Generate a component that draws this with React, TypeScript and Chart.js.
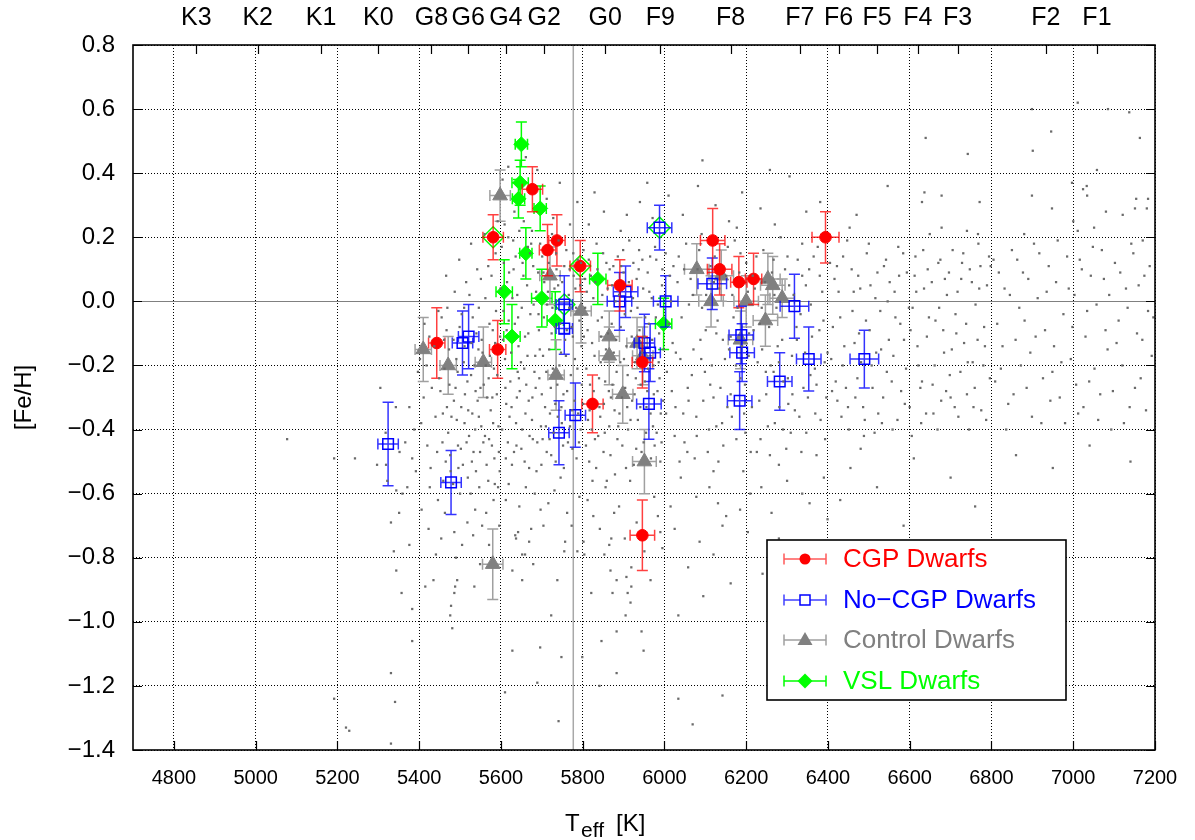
import React, { useEffect, useRef } from 'react';
import { Chart, registerables } from 'chart.js';

Chart.register(...registerables);

const FONT = "'Liberation Sans', Arial, Helvetica, sans-serif";

const xTickValues = [4800, 5000, 5200, 5400, 5600, 5800, 6000, 6200, 6400, 6600, 6800, 7000, 7200];
const yTickValues = [0.8, 0.6, 0.4, 0.2, 0.0, -0.2, -0.4, -0.6, -0.8, -1.0, -1.2, -1.4];
const spectralLabels = ['K3', 'K2', 'K1', 'K0', 'G8', 'G6', 'G4', 'G2', 'G0', 'F9', 'F8', 'F7', 'F6', 'F5', 'F4', 'F3', 'F2', 'F1'];
const spectralTeff = [4855, 5005, 5160, 5300, 5430, 5520, 5612, 5706, 5855, 5990, 6162, 6331, 6426, 6520, 6620, 6717, 6933, 7058];
const solarTeff = 5777;

// CGP dwarfs
const cgpTeff = [5581, 5677, 5714, 5737, 5794, 5891, 5443, 5592, 5824, 5946, 5946, 6118, 6135, 6182, 6218, 6394];
const cgpFeH = [0.20, 0.35, 0.16, 0.19, 0.11, 0.05, -0.13, -0.15, -0.32, -0.19, -0.73, 0.19, 0.10, 0.06, 0.07, 0.20];
const cgpTeffErr = [25, 25, 20, 20, 25, 30, 20, 20, 26, 25, 30, 30, 30, 20, 20, 33];
const cgpFeHErr = [0.07, 0.07, 0.08, 0.08, 0.08, 0.08, 0.11, 0.09, 0.09, 0.08, 0.11, 0.10, 0.08, 0.08, 0.08, 0.08];

// No-CGP dwarfs
const ncTeff = [5988, 5755, 5755, 5890, 5905, 6003, 5506, 5521, 5951, 5965, 5962, 5782, 5742, 5324, 5478, 6117, 6318, 6188, 6190, 6184, 6282, 6353, 6489];
const ncFeH = [0.23, -0.01, -0.085, 0.0, 0.03, 0.0, -0.13, -0.11, -0.13, -0.16, -0.32, -0.355, -0.41, -0.445, -0.565, 0.055, -0.015, -0.105, -0.16, -0.31, -0.25, -0.18, -0.18];
const ncTeffErr = [30, 20, 20, 30, 30, 30, 25, 25, 25, 25, 30, 25, 25, 25, 25, 35, 35, 30, 30, 30, 30, 30, 35];
const ncFeHErr = [0.07, 0.09, 0.08, 0.09, 0.08, 0.08, 0.10, 0.10, 0.09, 0.09, 0.11, 0.10, 0.10, 0.13, 0.10, 0.08, 0.10, 0.09, 0.09, 0.09, 0.09, 0.10, 0.09];

// Control dwarfs
const ctTeff = [5598, 5720, 5410, 5471, 5557, 5796, 5735, 5580, 5865, 5865, 5933, 5947, 5898, 5951, 6079, 6139, 6114, 6200, 6253, 6265, 6288, 6247, 6186];
const ctFeH = [0.33, 0.08, -0.15, -0.20, -0.19, -0.03, -0.23, -0.82, -0.11, -0.17, -0.13, -0.17, -0.29, -0.50, 0.10, 0.08, 0.00, 0.00, 0.07, 0.05, 0.01, -0.06, -0.12];
const ctTeffErr = [25, 25, 20, 20, 20, 25, 20, 25, 25, 25, 25, 25, 25, 29, 30, 30, 30, 30, 30, 30, 30, 30, 30];
const ctFeHErr = [0.08, 0.09, 0.10, 0.09, 0.11, 0.10, 0.11, 0.11, 0.08, 0.09, 0.08, 0.09, 0.09, 0.10, 0.08, 0.08, 0.08, 0.08, 0.08, 0.09, 0.06, 0.08, 0.09];

// VSL dwarfs
const vslTeff = [5650, 5647, 5643, 5696, 5661, 5837, 5608, 5700, 5733, 5627, 5998];
const vslFeH = [0.49, 0.37, 0.32, 0.29, 0.15, 0.07, 0.03, 0.01, -0.06, -0.11, -0.07];
const vslTeffErr = [15, 20, 15, 15, 15, 20, 20, 25, 20, 20, 20];
const vslFeHErr = [0.07, 0.07, 0.06, 0.07, 0.08, 0.08, 0.10, 0.09, 0.09, 0.10, 0.08];

// VSL stars also in the CGP / No-CGP samples (open diamonds)
const vslOpenTeff = [5581, 5794, 5988, 5755];
const vslOpenFeH = [0.20, 0.11, 0.23, -0.01];

// Field stars (background cloud) [Teff, [Fe/H]]
const fieldStars: number[][] = [
  [5077, -0.43], [5192, -0.49], [5192, -1.24], [5229, -1.34], [5221, -1.33], [5243, -0.49], [5297, -0.51], [5319, -0.51],
  [5305, -0.27], [5318, -0.41], [5322, -0.56], [5331, -0.69], [5344, -0.59], [5351, -0.66], [5359, -0.60], [5344, -0.84],
  [5376, -0.33], [5343, -0.33], [5388, -0.40], [5383, -0.49], [5383, -0.96], [5383, -1.06], [5376, -0.76], [5397, -0.22],
  [5402, -0.18], [5411, -0.30], [5415, -0.89], [5420, -0.45], [5428, -0.52], [5435, -0.87], [5431, -0.27], [5440, -0.36],
  [5446, -0.62], [5392, -0.53], [5366, -0.44], [5338, -0.78], [5357, -0.91], [5331, -1.38], [5341, -1.25], [5331, -1.16],
  [5413, -0.07], [5425, -0.11], [5447, -0.03],
  [5454, -0.74], [5486, -0.72], [5490, -0.80], [5493, -0.87], [5488, -0.89], [5486, -0.91], [5478, -0.95], [5476, -0.98],
  [5481, -1.02], [5535, -0.89], [5532, -0.73], [5505, -0.76], [5554, -0.70], [5537, -0.65], [5564, -0.66], [5582, -0.62],
  [5455, -0.05], [5462, -0.21], [5468, -0.33], [5471, -0.41], [5476, -0.48], [5459, -0.56], [5484, -0.12], [5489, -0.27],
  [5492, -0.37], [5496, -0.52], [5500, -0.60], [5504, -0.04], [5509, -0.19], [5512, -0.29], [5516, -0.44], [5519, -0.55],
  [5523, 0.02], [5527, -0.23], [5530, -0.35], [5533, -0.47], [5537, -0.40], [5540, -0.10], [5543, -0.31], [5547, -0.58],
  [5551, 0.07], [5555, -0.16], [5558, -0.26], [5561, -0.42], [5565, -0.51], [5569, 0.11], [5572, -0.07], [5575, -0.34],
  [5578, -0.45], [5583, -0.21], [5587, 0.15], [5590, -0.29], [5594, -0.39], [5597, -0.53], [5599, 0.04], [5466, 0.08],
  [5498, 0.13], [5527, 0.18], [5546, -0.02], [5560, 0.21], [5580, -0.09], [5592, 0.25], [5473, -0.15], [5511, -0.38],
  [5528, -0.13], [5549, -0.47], [5570, -0.24], [5585, -0.57],
  [5452, -0.28], [5457, -0.44], [5461, -0.12], [5465, -0.50], [5469, -0.02], [5474, -0.26], [5479, -0.36], [5483, -0.57],
  [5487, 0.03], [5491, -0.18], [5495, -0.45], [5499, -0.08], [5503, -0.33], [5507, -0.51], [5511, -0.14], [5515, 0.06],
  [5518, -0.25], [5522, -0.42], [5526, -0.60], [5531, -0.05], [5535, -0.20], [5539, -0.53], [5542, 0.10], [5546, -0.36],
  [5550, -0.27], [5553, -0.12], [5557, -0.44], [5562, 0.01], [5566, -0.30], [5569, -0.56], [5573, -0.17], [5577, 0.08],
  [5581, -0.38], [5584, -0.49], [5588, -0.03], [5591, -0.23], [5595, -0.47], [5598, -0.11],
  [5405, -0.38], [5418, -0.20], [5426, -0.58], [5437, -0.14], [5444, -0.47], [5449, -0.24], [5458, -0.35], [5467, -0.09],
  [5477, -0.53], [5485, -0.31], [5494, -0.22], [5502, -0.46], [5510, -0.02], [5520, -0.34], [5529, -0.50], [5538, -0.28],
  [5545, -0.15], [5552, -0.39], [5563, -0.20], [5571, -0.43], [5579, -0.30], [5586, -0.13], [5593, -0.58],
  [5604, 0.38], [5618, 0.42], [5633, 0.28], [5661, 0.45], [5689, 0.41], [5712, 0.32], [5728, 0.26], [5744, 0.37],
  [5769, 0.24], [5787, 0.31], [5609, 0.24], [5676, 0.22],
  [5602, 0.17], [5606, -0.03], [5610, -0.18], [5613, -0.32], [5617, -0.44], [5620, 0.09], [5623, -0.25], [5627, -0.51],
  [5630, 0.19], [5634, -0.07], [5637, -0.38], [5640, 0.02], [5643, -0.14], [5646, -0.28], [5650, -0.46], [5653, 0.12],
  [5657, -0.21], [5660, -0.35], [5664, 0.05], [5667, -0.10], [5670, -0.42], [5674, 0.18], [5677, -0.30], [5680, -0.01],
  [5684, -0.17], [5687, -0.53], [5691, 0.09], [5694, -0.24], [5698, -0.39], [5701, 0.14], [5705, -0.05], [5708, -0.33],
  [5712, -0.47], [5715, 0.03], [5718, -0.15], [5722, -0.27], [5725, 0.21], [5729, -0.41], [5732, -0.08], [5736, 0.10],
  [5739, -0.36], [5743, -0.20], [5746, -0.55], [5750, 0.06], [5753, -0.29], [5757, -0.12], [5760, 0.16], [5764, -0.44],
  [5767, -0.02], [5771, -0.23], [5774, -0.34], [5778, 0.08], [5781, -0.18], [5785, -0.49], [5788, 0.13], [5792, -0.06],
  [5795, -0.40], [5798, -0.26], [5615, 0.06], [5641, -0.22], [5668, -0.31], [5695, -0.15], [5723, -0.48], [5749, -0.38],
  [5776, -0.11], [5656, 0.25], [5702, -0.43], [5735, 0.15],
  [5603, -0.40], [5607, 0.12], [5611, -0.27], [5614, -0.09], [5618, 0.20], [5621, -0.36], [5625, -0.16], [5628, 0.01],
  [5632, -0.47], [5636, 0.14], [5639, -0.30], [5642, -0.05], [5645, 0.22], [5649, -0.19], [5652, -0.40], [5655, 0.08],
  [5659, -0.11], [5662, -0.26], [5666, 0.17], [5669, -0.52], [5672, -0.04], [5676, -0.37], [5679, 0.11], [5682, -0.22],
  [5686, 0.03], [5689, -0.44], [5693, -0.09], [5696, 0.18], [5700, -0.29], [5703, -0.17], [5706, 0.06], [5710, -0.39],
  [5713, -0.01], [5717, 0.12], [5720, -0.35], [5724, -0.10], [5727, -0.21], [5731, 0.04], [5734, -0.50], [5738, -0.26],
  [5741, 0.19], [5745, -0.07], [5748, -0.33], [5752, -0.45], [5755, 0.11], [5759, -0.17], [5762, -0.28], [5766, 0.02],
  [5769, -0.39], [5773, -0.08], [5777, 0.15], [5780, -0.31], [5784, -0.02], [5787, -0.21], [5791, -0.44], [5794, 0.05],
  [5797, -0.14],
  [5605, -0.12], [5612, -0.49], [5619, -0.06], [5626, -0.33], [5631, 0.10], [5638, -0.45], [5644, -0.24], [5651, -0.02],
  [5658, -0.50], [5665, -0.17], [5671, 0.15], [5678, -0.43], [5685, -0.27], [5692, -0.04], [5699, -0.51], [5704, 0.09],
  [5711, -0.22], [5719, -0.43], [5726, -0.02], [5733, -0.32], [5740, 0.05], [5747, -0.16], [5754, -0.52], [5761, -0.09],
  [5768, 0.10], [5775, -0.46], [5782, 0.04], [5789, -0.35], [5796, 0.12],
  [5628, -1.09], [5696, -1.08], [5748, -1.11], [5689, -1.19], [5723, -0.98], [5652, -0.87], [5628, -0.84], [5738, -0.87],
  [5652, -0.79], [5659, -0.79], [5679, -0.82], [5637, -0.74], [5669, -0.75], [5635, -0.73], [5642, -0.72], [5674, -0.71],
  [5704, -0.70], [5755, -0.78], [5787, -0.78], [5757, -0.75], [5612, -0.62], [5645, -0.64], [5683, -0.60], [5716, -0.63],
  [5762, -0.66], [5792, -0.61], [5741, -1.31], [5610, -1.22],
  [5352, -0.47], [5371, -0.58], [5406, -0.65], [5423, -0.71], [5441, -0.79], [5463, -0.66], [5518, -0.69], [5549, -0.82],
  [5571, -0.76], [5596, -0.70], [5619, -0.57], [5661, -0.58], [5697, -0.65], [5731, -0.59], [5773, -0.70], [5812, -0.62],
  [5842, -0.71], [5877, -0.66], [5903, -0.74], [5951, -0.78], [5984, -0.67], [6025, -0.71], [6078, -0.61], [6131, -0.63],
  [6185, -0.65], [6237, -0.58], [6280, -0.74], [6337, -0.60], [6390, -0.55], [6120, -0.53], [6280, -0.51],
  [5799, -1.11], [5841, -1.20], [5846, -1.06], [5883, -1.03], [5883, -1.16], [5944, -1.03], [5949, -1.09], [5905, -0.98],
  [5917, -0.94], [5919, -0.89], [5910, -0.91], [5873, -0.91], [5821, -0.91], [5883, -0.87], [5907, -0.86], [5966, -0.87],
  [5868, -0.84], [5919, -0.83], [5804, -0.79], [5853, -0.79], [5865, -0.76], [5802, -0.75], [5870, -0.74], [5990, -0.72],
  [5995, -0.77], [5826, -0.67], [5889, -0.64], [5932, -0.69], [5975, -0.61], [5856, -0.58],
  [5802, 0.16], [5806, -0.02], [5809, -0.21], [5813, -0.37], [5816, -0.50], [5820, 0.08], [5823, -0.13], [5827, -0.28],
  [5830, -0.43], [5834, 0.18], [5837, -0.06], [5841, -0.33], [5844, -0.19], [5848, 0.02], [5851, -0.47], [5855, -0.25],
  [5858, 0.12], [5862, -0.10], [5865, -0.39], [5869, -0.30], [5872, 0.05], [5876, -0.16], [5879, -0.54], [5883, -0.22],
  [5886, 0.14], [5890, -0.35], [5893, -0.08], [5897, -0.45], [5900, 0.09], [5904, -0.27], [5907, -0.14], [5911, -0.40],
  [5914, 0.19], [5918, -0.03], [5921, -0.31], [5925, -0.51], [5928, -0.19], [5932, 0.07], [5935, -0.37], [5939, -0.09],
  [5942, -0.26], [5946, 0.13], [5949, -0.44], [5953, -0.05], [5956, -0.33], [5960, -0.21], [5963, 0.03], [5967, -0.49],
  [5970, -0.12], [5974, -0.29], [5977, 0.17], [5981, -0.41], [5984, -0.01], [5988, -0.24], [5991, -0.35], [5995, 0.10],
  [5998, -0.15], [5815, 0.24], [5852, 0.28], [5893, 0.22], [5940, 0.31], [5971, 0.26], [5829, 0.34], [5908, 0.27],
  [5958, 0.37],
  [5801, -0.32], [5805, 0.07], [5808, -0.45], [5812, -0.09], [5815, 0.13], [5818, -0.26], [5822, -0.40], [5826, 0.01],
  [5829, -0.17], [5833, -0.52], [5836, 0.10], [5840, -0.24], [5843, -0.36], [5847, -0.05], [5850, 0.15], [5854, -0.41],
  [5857, -0.15], [5861, 0.04], [5864, -0.28], [5868, -0.48], [5871, -0.07], [5875, 0.11], [5878, -0.34], [5882, -0.12],
  [5885, -0.43], [5889, 0.02], [5892, -0.19], [5896, -0.30], [5899, 0.16], [5903, -0.04], [5906, -0.52], [5910, -0.23],
  [5913, 0.06], [5917, -0.37], [5920, -0.11], [5924, 0.12], [5927, -0.29], [5931, -0.46], [5934, -0.02], [5938, 0.16],
  [5941, -0.33], [5945, -0.16], [5948, 0.04], [5952, -0.25], [5955, -0.41], [5959, 0.09], [5962, -0.07], [5966, -0.35],
  [5969, 0.01], [5973, -0.20], [5976, -0.45], [5980, 0.13], [5983, -0.28], [5987, -0.10], [5990, -0.50], [5994, 0.05],
  [5997, -0.31],
  [5803, -0.11], [5810, 0.03], [5817, -0.34], [5824, -0.56], [5831, 0.06], [5838, -0.42], [5845, -0.11], [5852, -0.32],
  [5859, -0.56], [5866, 0.10], [5873, -0.26], [5880, 0.00], [5887, -0.39], [5894, 0.11], [5901, -0.18], [5909, -0.33],
  [5916, -0.56], [5923, 0.01], [5930, -0.24], [5937, 0.10], [5944, -0.47], [5951, -0.11], [5958, -0.28], [5965, 0.14],
  [5972, -0.39], [5979, -0.05], [5986, -0.19], [5993, -0.44],
  [6010, 0.33], [6045, 0.27], [6082, 0.36], [6125, 0.30], [6158, 0.25], [6190, 0.34], [6235, 0.29], [6270, 0.24],
  [6306, 0.39], [6347, 0.28], [6381, 0.31], [6093, 0.44], [6258, 0.41], [6177, 0.23],
  [6003, 0.15], [6011, -0.07], [6018, -0.28], [6025, -0.42], [6032, 0.06], [6039, -0.18], [6046, -0.35], [6053, 0.18],
  [6060, -0.01], [6067, -0.23], [6074, -0.49], [6081, 0.10], [6088, -0.12], [6095, -0.31], [6102, 0.02], [6109, -0.40],
  [6116, -0.20], [6123, 0.14], [6130, -0.06], [6137, -0.27], [6144, -0.45], [6151, 0.08], [6158, -0.15], [6165, -0.36],
  [6172, 0.19], [6179, -0.02], [6186, -0.24], [6193, -0.53], [6200, 0.12], [6207, -0.10], [6214, -0.33], [6221, 0.04],
  [6228, -0.19], [6235, -0.43], [6242, 0.16], [6249, -0.29], [6256, -0.08], [6263, 0.09], [6270, -0.38], [6277, -0.14],
  [6284, 0.20], [6291, -0.25], [6298, -0.46], [6305, 0.05], [6312, -0.17], [6319, -0.34], [6326, 0.13], [6333, -0.04],
  [6340, -0.27], [6347, -0.41], [6354, 0.10], [6361, -0.11], [6368, -0.21], [6375, 0.17], [6382, -0.37], [6389, -0.06],
  [6396, -0.30], [6022, 0.11], [6056, -0.47], [6091, 0.21], [6127, -0.39], [6162, -0.11], [6198, -0.41], [6233, -0.07],
  [6267, -0.22], [6303, -0.32], [6337, 0.18], [6372, -0.48], [6040, -0.55], [6110, -0.58], [6210, -0.60], [6300, -0.56],
  [6006, -0.22], [6013, 0.08], [6020, -0.13], [6027, -0.33], [6035, 0.14], [6042, -0.05], [6049, -0.44], [6057, -0.27],
  [6064, 0.07], [6071, -0.15], [6078, -0.36], [6085, 0.16], [6092, -0.02], [6099, -0.22], [6106, -0.47], [6113, 0.11],
  [6120, -0.30], [6127, -0.10], [6134, 0.04], [6141, -0.38], [6148, -0.18], [6155, 0.17], [6162, -0.29], [6169, -0.05],
  [6176, -0.43], [6183, 0.09], [6190, -0.14], [6197, -0.26], [6204, 0.03], [6211, -0.47], [6218, -0.09], [6225, 0.14],
  [6232, -0.31], [6239, -0.15], [6246, 0.06], [6253, -0.39], [6260, -0.20], [6267, 0.13], [6274, -0.02], [6281, -0.33],
  [6288, -0.12], [6295, 0.10], [6302, -0.24], [6309, -0.41], [6316, 0.02], [6323, -0.08], [6330, -0.36], [6337, 0.08],
  [6344, -0.16], [6351, -0.30], [6358, -0.01], [6365, 0.14], [6372, -0.26], [6379, -0.09], [6386, 0.03], [6393, -0.43],
  [6399, -0.16],
  [6004, -0.35], [6016, 0.00], [6028, -0.16], [6037, -0.50], [6048, 0.10], [6059, -0.31], [6070, 0.02], [6079, -0.42],
  [6090, -0.18], [6101, -0.09], [6112, -0.26], [6121, 0.06], [6132, -0.50], [6143, -0.12], [6154, -0.33], [6166, 0.02],
  [6175, -0.20], [6186, 0.15], [6195, -0.35], [6206, -0.17], [6216, 0.08], [6226, -0.47], [6238, -0.02], [6248, -0.22],
  [6258, -0.48], [6269, 0.02], [6280, -0.19], [6290, -0.40], [6301, 0.14], [6313, -0.29], [6324, -0.12], [6335, -0.47],
  [6346, 0.05], [6357, -0.23], [6369, -0.35], [6380, 0.08], [6392, -0.19],
  [6034, -0.98], [6069, -1.32], [6142, -1.23], [6034, -1.24], [6086, -0.75], [6162, -0.88], [6151, -0.67], [6142, -0.70],
  [6262, -0.66], [6399, -0.68], [6015, -0.64], [6058, -0.83], [6120, -0.79], [6204, -0.72], [6240, -0.85], [6318, -0.77],
  [6355, -0.63], [6095, -0.92],
  [6405, 0.12], [6412, -0.08], [6419, -0.25], [6426, 0.03], [6433, -0.36], [6440, -0.14], [6447, 0.19], [6453, 0.23],
  [6460, -0.03], [6467, -0.30], [6474, 0.08], [6481, -0.19], [6488, -0.42], [6495, 0.15], [6502, -0.09], [6509, -0.27],
  [6516, 0.01], [6523, -0.35], [6530, -0.15], [6537, 0.11], [6544, -0.22], [6551, 0.06], [6558, -0.40], [6565, -0.05],
  [6572, 0.17], [6579, -0.28], [6586, -0.12], [6593, 0.09], [6600, -0.33], [6607, -0.02], [6614, 0.14], [6621, -0.20],
  [6628, -0.38], [6635, 0.04], [6642, -0.11], [6649, 0.21], [6656, -0.26], [6663, -0.06], [6670, 0.12], [6677, -0.31],
  [6684, -0.16], [6691, 0.02], [6698, -0.23], [6705, 0.16], [6712, -0.04], [6719, -0.36], [6726, 0.07], [6733, -0.13],
  [6740, -0.29], [6747, 0.10], [6754, -0.19], [6761, -0.01], [6768, 0.18], [6775, -0.34], [6782, -0.08], [6789, 0.05],
  [6796, -0.24], [6470, 0.27], [6546, 0.36], [6639, 0.51], [6636, 0.34], [6678, 0.33], [6630, 0.31], [6742, 0.46],
  [6771, 0.31], [6678, 0.23], [6740, 0.22], [6767, 0.21], [6455, -0.52], [6520, -0.58], [6610, -0.49], [6700, -0.55],
  [6430, -0.62], [6585, -0.70], [6760, -0.64], [6480, -0.46],
  [6408, -0.18], [6416, 0.07], [6423, -0.31], [6430, -0.05], [6437, 0.14], [6444, -0.27], [6451, -0.40], [6458, 0.10],
  [6465, -0.13], [6472, -0.24], [6479, 0.04], [6486, -0.33], [6493, -0.06], [6500, 0.18], [6507, -0.20], [6514, -0.41],
  [6521, 0.09], [6528, -0.03], [6535, -0.30], [6542, 0.13], [6549, -0.12], [6556, -0.25], [6563, 0.03], [6570, -0.37],
  [6577, -0.07], [6584, 0.15], [6591, -0.21], [6598, -0.02], [6605, -0.42], [6612, 0.08], [6619, -0.14], [6626, -0.27],
  [6633, 0.16], [6640, -0.35], [6647, -0.05], [6654, 0.06], [6661, -0.20], [6668, -0.40], [6675, 0.13], [6682, -0.09],
  [6689, -0.28], [6696, 0.09], [6703, -0.15], [6710, -0.33], [6717, 0.03], [6724, -0.22], [6731, 0.15], [6738, -0.07],
  [6745, -0.40], [6752, 0.06], [6759, -0.27], [6766, -0.12], [6773, 0.11], [6780, -0.20], [6787, -0.37], [6794, 0.14],
  [6410, -0.28], [6422, 0.11], [6436, -0.20], [6449, -0.33], [6463, 0.03], [6476, -0.10], [6490, -0.37], [6504, 0.05],
  [6518, -0.16], [6532, -0.38], [6546, 0.00], [6560, -0.17], [6574, 0.08], [6588, -0.32], [6602, -0.09], [6616, 0.03],
  [6630, -0.25], [6644, 0.10], [6658, -0.35], [6672, -0.02], [6686, 0.07], [6700, -0.30], [6714, -0.10], [6728, 0.12],
  [6742, -0.19], [6756, -0.33], [6770, 0.04], [6784, -0.14], [6798, 0.11],
  [6899, 0.60], [7011, 0.62], [7085, 0.60], [7137, 0.59], [6946, 0.53], [7163, 0.51], [6901, 0.47], [7058, 0.41],
  [6899, 0.33], [6948, 0.29], [6997, 0.37], [7033, 0.36], [7024, 0.35], [7034, 0.33], [7154, 0.32], [7183, 0.32],
  [7151, 0.29], [7180, 0.29], [7080, 0.28], [7121, 0.27], [7051, 0.23], [7011, 0.22],
  [6805, 0.13], [6814, -0.07], [6823, -0.21], [6832, 0.04], [6841, -0.32], [6850, 0.16], [6859, -0.12], [6868, -0.02],
  [6877, 0.09], [6886, -0.27], [6895, -0.16], [6904, 0.18], [6913, 0.01], [6922, -0.38], [6931, -0.09], [6940, 0.11],
  [6949, -0.22], [6958, 0.06], [6967, -0.30], [6976, -0.04], [6985, 0.14], [6994, -0.18], [7003, 0.02], [7012, -0.35],
  [7021, 0.10], [7030, -0.11], [7039, -0.25], [7048, 0.17], [7057, -0.01], [7066, -0.29], [7075, 0.07], [7084, -0.15],
  [7093, -0.40], [7102, 0.12], [7111, -0.06], [7120, -0.20], [7129, 0.04], [7138, -0.33], [7147, 0.15], [7156, -0.10],
  [7165, -0.24], [7174, 0.08], [7183, -0.03], [7192, -0.17], [6860, -0.48], [6950, -0.52], [7040, -0.45], [7140, -0.50],
  [6880, 0.21], [7000, 0.25], [7170, 0.19],
  [6809, -0.25], [6818, 0.09], [6827, -0.14], [6836, -0.40], [6845, 0.02], [6854, -0.29], [6863, 0.13], [6872, -0.20],
  [6881, -0.06], [6890, 0.07], [6899, -0.36], [6908, -0.11], [6917, 0.15], [6926, -0.24], [6935, 0.03], [6944, -0.31],
  [6953, -0.14], [6962, 0.19], [6971, -0.19], [6980, -0.38], [6989, 0.04], [6998, -0.08], [7007, -0.26], [7016, 0.13],
  [7025, -0.33], [7034, -0.03], [7043, 0.08], [7052, -0.21], [7061, -0.37], [7070, 0.16], [7079, -0.09], [7088, 0.02],
  [7097, -0.28], [7106, -0.13], [7115, 0.09], [7124, -0.38], [7133, -0.02], [7142, 0.18], [7151, -0.27], [7160, 0.05],
  [7169, -0.12], [7178, -0.34], [7187, 0.11], [7196, -0.05],
];

const legendEntries = [
  { label: 'CGP Dwarfs', color: '#ff0000', bar: 'rgba(255,0,0,0.65)', marker: 'circle' },
  { label: 'No\u2212CGP Dwarfs', color: '#0000ff', bar: 'rgba(0,0,255,0.75)', marker: 'square' },
  { label: 'Control Dwarfs', color: '#808080', bar: '#a0a0a0', marker: 'triangle' },
  { label: 'VSL Dwarfs', color: '#00ff00', bar: '#00ff00', marker: 'diamond' },
];

function zip(t: number[], f: number[], te?: number[], fe?: number[]) {
  return t.map((x, i) => ({ x, y: f[i], xe: te ? te[i] : 0, ye: fe ? fe[i] : 0 }));
}

function fmtY(v: number) {
  if (Math.abs(v) < 1e-9) return '0.0';
  return (v < 0 ? '\u2212' : '') + Math.abs(v).toFixed(1);
}

const refLinesPlugin = {
  id: 'refLines',
  beforeDatasetsDraw(chart: any) {
    const { ctx, chartArea: a, scales } = chart;
    const x = scales.x, y = scales.y;
    ctx.save();
    ctx.beginPath();
    ctx.rect(a.left, a.top, a.right - a.left, a.bottom - a.top);
    ctx.clip();
    const y0 = Math.round(y.getPixelForValue(0)) + 0.5;
    ctx.strokeStyle = '#808080';
    ctx.lineWidth = 1;
    ctx.beginPath();
    ctx.moveTo(a.left, y0);
    ctx.lineTo(a.right, y0);
    ctx.stroke();
    const xs = x.getPixelForValue(solarTeff);
    ctx.strokeStyle = '#a8a8a8';
    ctx.lineWidth = 1.5;
    ctx.beginPath();
    ctx.moveTo(xs, a.top);
    ctx.lineTo(xs, a.bottom);
    ctx.stroke();
    ctx.restore();
  },
};

const errorBarPlugin = {
  id: 'errorBars',
  beforeDatasetDraw(chart: any, args: any) {
    const ds = chart.data.datasets[args.index];
    if (!ds.errorColor) return;
    const { ctx, scales } = chart;
    const xs = scales.x, ys = scales.y;
    const c = 5.5;
    ctx.save();
    ctx.strokeStyle = ds.errorColor;
    ctx.lineWidth = 1.5;
    for (const p of ds.data) {
      const px = xs.getPixelForValue(p.x);
      const py = ys.getPixelForValue(p.y);
      const x0 = xs.getPixelForValue(p.x - p.xe);
      const x1 = xs.getPixelForValue(p.x + p.xe);
      const y0 = ys.getPixelForValue(p.y - p.ye);
      const y1 = ys.getPixelForValue(p.y + p.ye);
      ctx.beginPath();
      ctx.moveTo(x0, py); ctx.lineTo(x1, py);
      ctx.moveTo(px, y0); ctx.lineTo(px, y1);
      ctx.moveTo(x0, py - c); ctx.lineTo(x0, py + c);
      ctx.moveTo(x1, py - c); ctx.lineTo(x1, py + c);
      ctx.moveTo(px - c, y0); ctx.lineTo(px + c, y0);
      ctx.moveTo(px - c, y1); ctx.lineTo(px + c, y1);
      ctx.stroke();
    }
    ctx.restore();
  },
};

function drawMarker(ctx: CanvasRenderingContext2D, kind: string, x: number, y: number, color: string) {
  ctx.save();
  ctx.fillStyle = color;
  ctx.strokeStyle = color;
  ctx.lineWidth = 1.5;
  ctx.beginPath();
  if (kind === 'circle') {
    ctx.arc(x, y, 5.5, 0, Math.PI * 2);
    ctx.fill();
  } else if (kind === 'square') {
    ctx.fillStyle = '#fff';
    ctx.rect(x - 5, y - 5, 10, 10);
    ctx.fill();
    ctx.stroke();
  } else if (kind === 'triangle') {
    ctx.moveTo(x, y - 8);
    ctx.lineTo(x + 7.5, y + 5);
    ctx.lineTo(x - 7.5, y + 5);
    ctx.closePath();
    ctx.fill();
  } else {
    ctx.moveTo(x, y - 7.5);
    ctx.lineTo(x + 7.5, y);
    ctx.lineTo(x, y + 7.5);
    ctx.lineTo(x - 7.5, y);
    ctx.closePath();
    ctx.fill();
  }
  ctx.restore();
}

const framePlugin = {
  id: 'frameTicksLegend',
  afterDraw(chart: any) {
    const { ctx, chartArea: a, scales } = chart;
    const x = scales.x, y = scales.y;
    const tl = 9;
    ctx.save();
    // inward tick marks
    ctx.strokeStyle = '#000';
    ctx.lineWidth = 1.2;
    ctx.beginPath();
    for (const v of yTickValues) {
      const py = Math.round(y.getPixelForValue(v)) + 0.5;
      ctx.moveTo(a.left, py); ctx.lineTo(a.left + tl, py);
      ctx.moveTo(a.right, py); ctx.lineTo(a.right - tl, py);
    }
    for (const v of xTickValues) {
      const px = Math.round(x.getPixelForValue(v)) + 0.5;
      ctx.moveTo(px, a.bottom); ctx.lineTo(px, a.bottom - tl);
    }
    for (const v of spectralTeff) {
      const px = Math.round(x.getPixelForValue(v)) + 0.5;
      ctx.moveTo(px, a.top); ctx.lineTo(px, a.top + tl);
    }
    ctx.stroke();
    // frame
    ctx.lineWidth = 1.6;
    ctx.strokeRect(a.left, a.top, a.right - a.left, a.bottom - a.top);

    // axis titles
    ctx.fillStyle = '#000';
    ctx.textBaseline = 'alphabetic';
    ctx.textAlign = 'left';
    const ty = 831;
    ctx.font = `24px ${FONT}`;
    ctx.fillText('T', 565, ty);
    ctx.font = `21px ${FONT}`;
    ctx.fillText('eff', 581, ty + 6);
    ctx.font = `24px ${FONT}`;
    ctx.fillText('[K]', 616, ty);

    ctx.save();
    ctx.translate(31, (a.top + a.bottom) / 2);
    ctx.rotate(-Math.PI / 2);
    ctx.textAlign = 'center';
    ctx.font = `24px ${FONT}`;
    ctx.fillText('[Fe/H]', 0, 0);
    ctx.restore();

    // legend
    const lx = 767, ly = 540, lw = 299, lh = 160;
    ctx.fillStyle = '#fff';
    ctx.fillRect(lx, ly, lw, lh);
    ctx.strokeStyle = '#000';
    ctx.lineWidth = 1.6;
    ctx.strokeRect(lx, ly, lw, lh);
    const rows = [559, 600, 640, 681];
    legendEntries.forEach((e, i) => {
      const ry = rows[i];
      ctx.strokeStyle = e.bar;
      ctx.lineWidth = 1.5;
      ctx.beginPath();
      ctx.moveTo(784, ry); ctx.lineTo(826, ry);
      ctx.moveTo(784, ry - 5.5); ctx.lineTo(784, ry + 5.5);
      ctx.moveTo(826, ry - 5.5); ctx.lineTo(826, ry + 5.5);
      ctx.stroke();
      drawMarker(ctx, e.marker, 805, ry, e.color);
      ctx.fillStyle = e.color;
      ctx.font = `26px ${FONT}`;
      ctx.textAlign = 'left';
      ctx.textBaseline = 'middle';
      ctx.fillText(e.label, 843, ry + 1);
    });
    ctx.restore();
  },
};

export default function App() {
  const ref = useRef<HTMLCanvasElement>(null);
  useEffect(() => {
    if (!ref.current) return;
    const chart = new Chart(ref.current, {
      type: 'scatter',
      data: {
        datasets: [
          {
            label: 'field',
            data: fieldStars.map((p) => ({ x: p[0], y: p[1] })),
            pointStyle: 'rect',
            pointRadius: 1.6,
            backgroundColor: '#6a6a6a',
            borderWidth: 0,
          },
          {
            label: 'CGP Dwarfs',
            data: zip(cgpTeff, cgpFeH, cgpTeffErr, cgpFeHErr),
            errorColor: 'rgba(255,0,0,0.75)',
            pointStyle: 'circle',
            pointRadius: 5.8,
            backgroundColor: '#ff0000',
            borderColor: '#ff0000',
            borderWidth: 1,
          } as any,
          {
            label: 'No-CGP Dwarfs',
            data: zip(ncTeff, ncFeH, ncTeffErr, ncFeHErr),
            errorColor: 'rgba(0,0,255,0.8)',
            pointStyle: 'rect',
            pointRadius: 7.5,
            backgroundColor: 'rgba(0,0,0,0)',
            borderColor: '#0000ff',
            borderWidth: 1.5,
          } as any,
          {
            label: 'Control Dwarfs',
            data: zip(ctTeff, ctFeH, ctTeffErr, ctFeHErr),
            errorColor: '#a0a0a0',
            pointStyle: 'triangle',
            pointRadius: 8.5,
            backgroundColor: '#808080',
            borderColor: '#808080',
            borderWidth: 1,
          } as any,
          {
            label: 'VSL Dwarfs',
            data: zip(vslTeff, vslFeH, vslTeffErr, vslFeHErr),
            errorColor: '#00ff00',
            pointStyle: 'rectRot',
            pointRadius: 7.5,
            backgroundColor: '#00ff00',
            borderColor: '#00ff00',
            borderWidth: 1,
          } as any,
          {
            label: 'VSL (open)',
            data: zip(vslOpenTeff, vslOpenFeH),
            pointStyle: 'rectRot',
            pointRadius: 10.5,
            backgroundColor: 'rgba(0,0,0,0)',
            borderColor: '#00ff00',
            borderWidth: 1.5,
          },
        ],
      },
      options: {
        animation: false,
        responsive: true,
        maintainAspectRatio: false,
        events: [],
        layout: { padding: { left: 0, right: 40, top: 0, bottom: 0 } },
        plugins: {
          legend: { display: false },
          tooltip: { enabled: false },
        },
        scales: {
          x: {
            type: 'linear',
            position: 'bottom',
            min: 4700,
            max: 7200,
            afterBuildTicks: (s: any) => {
              s.ticks = xTickValues.map((v) => ({ value: v }));
            },
            afterFit: (s: any) => {
              s.height = 90;
            },
            ticks: {
              autoSkip: false,
              maxRotation: 0,
              padding: 16,
              color: '#000',
              font: { family: FONT, size: 20 },
              callback: (v: any) => String(v),
            },
            grid: {
              drawTicks: false,
              color: '#000',
              lineWidth: 1,
            },
            border: { display: false, dash: [1, 2] },
          },
          xTop: {
            type: 'linear',
            position: 'top',
            min: 4700,
            max: 7200,
            afterBuildTicks: (s: any) => {
              s.ticks = spectralTeff.map((v) => ({ value: v }));
            },
            afterFit: (s: any) => {
              s.height = 45;
            },
            ticks: {
              autoSkip: false,
              maxRotation: 0,
              padding: 12,
              color: '#000',
              font: { family: FONT, size: 25 },
              callback: (_v: any, i: number) => spectralLabels[i],
            },
            grid: { display: false, drawTicks: false },
            border: { display: false },
          },
          y: {
            type: 'linear',
            position: 'left',
            min: -1.4,
            max: 0.8,
            afterBuildTicks: (s: any) => {
              s.ticks = yTickValues.map((v) => ({ value: v }));
            },
            afterFit: (s: any) => {
              s.width = 133;
            },
            ticks: {
              autoSkip: false,
              padding: 18,
              color: '#000',
              font: { family: FONT, size: 24 },
              callback: (v: any) => fmtY(Number(v)),
            },
            grid: {
              drawTicks: false,
              lineWidth: 1,
              color: (c: any) => (c.tick && Math.abs(c.tick.value) < 1e-9 ? 'rgba(0,0,0,0)' : '#000'),
            },
            border: { display: false, dash: [1, 2] },
          },
        },
      } as any,
      plugins: [refLinesPlugin, errorBarPlugin, framePlugin],
    });
    return () => chart.destroy();
  }, []);
  return (
    <div style={{ position: 'absolute', left: 0, top: 0, width: 1195, height: 840, background: '#fff' }}>
      <canvas ref={ref} />
    </div>
  );
}
